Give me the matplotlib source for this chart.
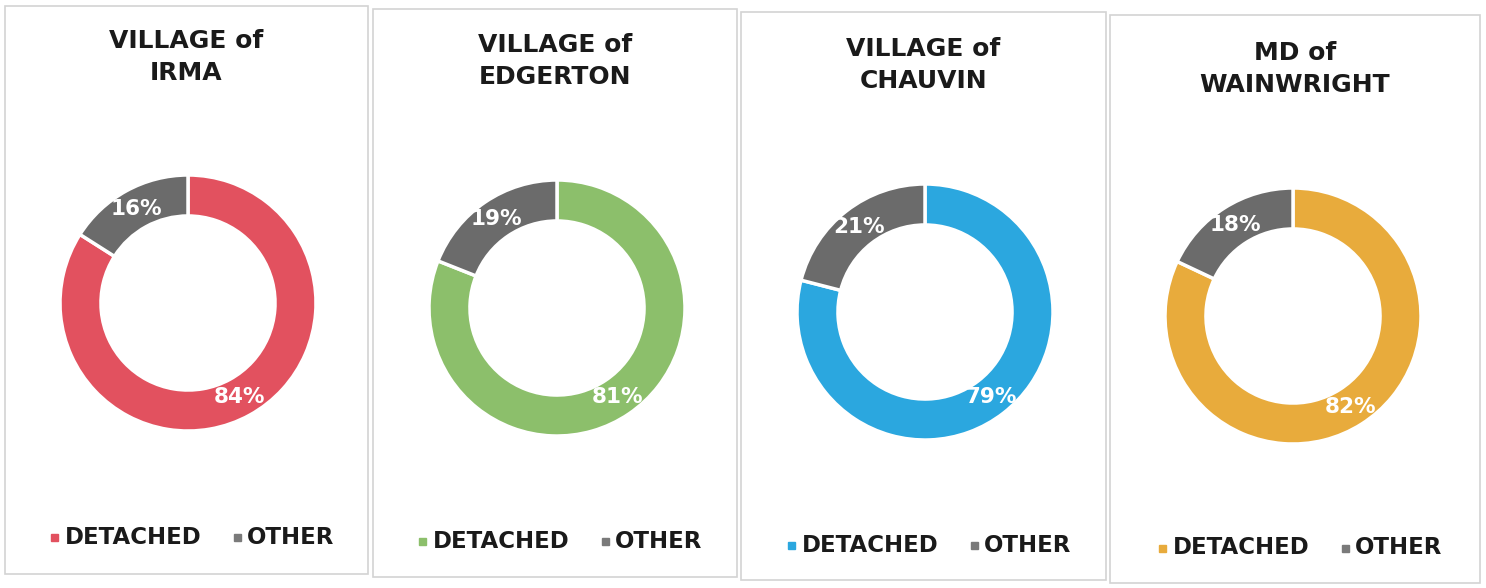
import matplotlib
matplotlib.use("Agg")
import matplotlib.pyplot as plt
from matplotlib.patches import Rectangle

# ---- data ----
titles = ["VILLAGE of\nIRMA", "VILLAGE of\nEDGERTON", "VILLAGE of\nCHAUVIN", "MD of\nWAINWRIGHT"]
categories = ["DETACHED", "OTHER"]
detached = [84, 81, 79, 82]
other = [16, 19, 21, 18]
main_colors = ["#E2515F", "#8CBF6B", "#2BA7DF", "#E8AB3C"]
other_color = "#6B6B6B"

W, H = 1486, 588
fig = plt.figure(figsize=(W / 100, H / 100), dpi=100)
fig.patch.set_facecolor("white")

# layout (pixels)
panels = [(5, 6, 368, 574), (373, 9, 737, 577), (741, 12, 1106, 580), (1110, 15, 1480, 583)]
centers = [(188, 303), (557, 308), (925, 312), (1293, 316)]
R = 128
title_y = [57, 61, 65, 69]
legend_y = [537, 541, 545, 548]

def fx(x):
    return x / W

def fy(y):
    return 1 - y / H

bg = fig.add_axes([0, 0, 1, 1])
bg.set_xlim(0, W)
bg.set_ylim(H, 0)
bg.axis("off")

font = "DejaVu Sans"

for i in range(4):
    x0, y0, x1, y1 = panels[i]
    bg.add_patch(Rectangle((x0, y0), x1 - x0, y1 - y0, fill=False,
                           edgecolor="#D3D3D3", linewidth=1.2))
    cx, cy = centers[i]
    pad = 1.15
    s = R * pad
    ax = fig.add_axes([fx(cx - s), fy(cy + s), 2 * s / W, 2 * s / H])
    wedges, texts, autotexts = ax.pie(
        [detached[i], other[i]], colors=[main_colors[i], other_color],
        startangle=90, counterclock=False, radius=1.0,
        wedgeprops=dict(width=0.32, edgecolor="white", linewidth=2.5),
        autopct="%d%%", pctdistance=0.84,
        textprops=dict(color="white", fontsize=15.5, fontweight="bold", family=font))
    ax.set_xlim(-pad, pad)
    ax.set_ylim(-pad, pad)
    ax.set_aspect("equal")
    ax.axis("off")

    pcx = (x0 + x1) / 2
    bg.text(pcx, title_y[i], titles[i], ha="center", va="center",
            fontsize=18, fontweight="bold", color="#1A1A1A", family=font,
            linespacing=1.42)

    # legend
    ly = legend_y[i]
    lx = pcx - 136
    bg.add_patch(Rectangle((lx, ly - 3.5), 7, 7, color=main_colors[i]))
    bg.text(lx + 14, ly, categories[0], ha="left", va="center", fontsize=16.5,
            fontweight="bold", color="#1A1A1A", family=font)
    lx2 = pcx + 47
    bg.add_patch(Rectangle((lx2, ly - 3.5), 7, 7, color="#7A7A7A"))
    bg.text(lx2 + 13, ly, categories[1], ha="left", va="center", fontsize=16.5,
            fontweight="bold", color="#1A1A1A", family=font)

fig.savefig("out.png", dpi=100, facecolor="white")
